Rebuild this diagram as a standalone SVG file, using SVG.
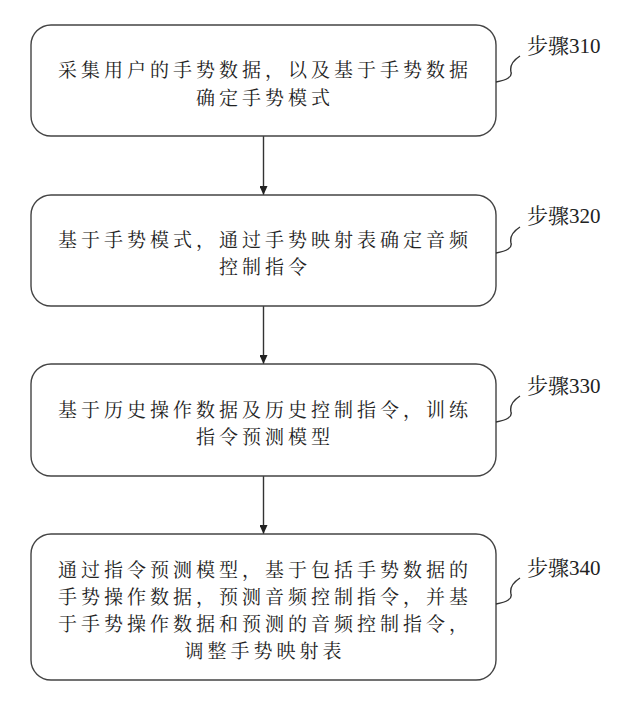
<svg xmlns="http://www.w3.org/2000/svg" width="627" height="724" viewBox="0 0 627 724">
<style>
.box{fill:#fff;stroke:#444;stroke-width:1.4}
.t{font-family:"Noto Serif CJK SC","Noto Sans CJK SC",sans-serif;font-size:19px;letter-spacing:4px;fill:#222}
.lbl{font-family:"Liberation Serif","Noto Serif CJK SC","Noto Sans CJK SC",serif;font-size:21px;fill:#222}
.sq{fill:none;stroke:#333;stroke-width:1.4}
.ar{fill:none;stroke:#333;stroke-width:1.4}
</style>
<defs>
<marker id="ah" markerWidth="9" markerHeight="8" refX="9" refY="4" orient="auto" markerUnits="userSpaceOnUse" viewBox="0 0 9 8">
<path d="M0,0 L9,4 L0,8 Z" fill="#222"/>
</marker>
</defs>
<rect width="627" height="724" fill="#fff"/>
<g id="connectors">
<line class="ar" x1="263.5" y1="136" x2="263.5" y2="195" marker-end="url(#ah)"/>
<line class="ar" x1="263.5" y1="306" x2="263.5" y2="364" marker-end="url(#ah)"/>
<line class="ar" x1="263.5" y1="476" x2="263.5" y2="534" marker-end="url(#ah)"/>
</g>
<g id="step310">
<rect class="box" x="31" y="25" width="465" height="111" rx="20"/>
<text class="t" x="58" y="77">采集用户的手势数据，以及基于手势数据</text>
<text class="t" x="196" y="105">确定手势模式</text>
<path class="sq" d="M496,82 Q513,79 511,72 Q509,63 520,56"/>
<text class="lbl" x="527" y="53">步骤310</text>
</g>
<g id="step320">
<rect class="box" x="31" y="195" width="465" height="111" rx="20"/>
<text class="t" x="58" y="247">基于手势模式，通过手势映射表确定音频</text>
<text class="t" x="219" y="274">控制指令</text>
<path class="sq" d="M496,253 Q513,250 511,243 Q509,234 520,227"/>
<text class="lbl" x="527" y="223">步骤320</text>
</g>
<g id="step330">
<rect class="box" x="31" y="364" width="465" height="112" rx="20"/>
<text class="t" x="58" y="417">基于历史操作数据及历史控制指令，训练</text>
<text class="t" x="196" y="444">指令预测模型</text>
<path class="sq" d="M496,422 Q513,419 511,412 Q509,403 520,396"/>
<text class="lbl" x="527" y="393">步骤330</text>
</g>
<g id="step340">
<rect class="box" x="31" y="534" width="465" height="146" rx="20"/>
<text class="t" x="58" y="577">通过指令预测模型，基于包括手势数据的</text>
<text class="t" x="58" y="604">手势操作数据，预测音频控制指令，并基</text>
<text class="t" x="58" y="631">于手势操作数据和预测的音频控制指令，</text>
<text class="t" x="184.5" y="658">调整手势映射表</text>
<path class="sq" d="M496,604 Q513,601 511,594 Q509,585 520,578"/>
<text class="lbl" x="527" y="575">步骤340</text>
</g>
</svg>
